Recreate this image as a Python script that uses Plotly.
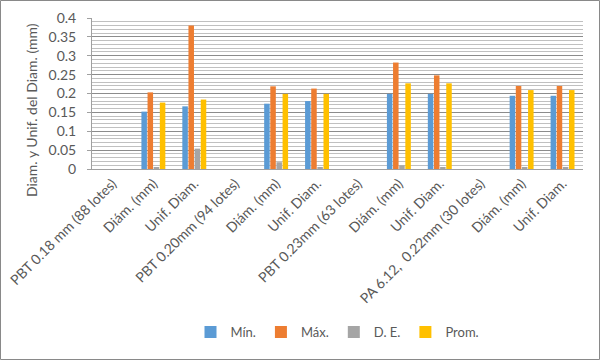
import plotly.graph_objects as go

categories = ["PBT 0.18 mm (88 lotes)", "Diám. (mm)", "Unif. Diam.",
              "PBT 0.20mm (94 lotes)", "Diám. (mm)", "Unif. Diam.",
              "PBT 0.23mm (63 lotes)", "Diám. (mm)", "Unif. Diam.",
              "PA 6.12,  0.22mm (30 lotes)", "Diám. (mm)", "Unif. Diam."]

minimo = [None, 0.152, 0.166, None, 0.173, 0.180, None, 0.199, 0.199, None, 0.194, 0.194]
maximo = [None, 0.203, 0.380, None, 0.219, 0.213, None, 0.282, 0.248, None, 0.220, 0.220]
desv = [None, 0.005, 0.054, None, 0.018, 0.004, None, 0.010, 0.005, None, 0.004, 0.004]
prom = [None, 0.176, 0.184, None, 0.199, 0.199, None, 0.227, 0.227, None, 0.209, 0.209]

series_names = ["Mín.", "Máx.", "D. E.", "Prom."]
colors = ["#5B9BD5", "#ED7D31", "#A5A5A5", "#FFC000"]

xs = list(range(len(categories)))
fig = go.Figure()
for name, vals, col in zip(series_names, [minimo, maximo, desv, prom], colors):
    fig.add_trace(go.Bar(x=xs, y=vals, name=name, marker=dict(color=col, line=dict(width=0))))

W, H = 600, 360
ml, mr, mt, mb = 92, 17, 18, 191
pw, ph = W - ml - mr, H - mt - mb
TXT = "#595959"

fig.update_layout(
    width=W, height=H,
    margin=dict(l=ml, r=mr, t=mt, b=mb, autoexpand=False),
    paper_bgcolor="white", plot_bgcolor="white",
    font=dict(family="Lato, Liberation Sans, sans-serif", color=TXT, size=13),
    barmode="group", bargap=0.4, bargroupgap=0.1,
    showlegend=True,
    legend=dict(orientation="h", x=0.5, xanchor="center", y=(mt + ph - 332) / ph, yanchor="middle",
                font=dict(size=13, color=TXT), itemwidth=30, traceorder="normal"),
    xaxis=dict(tickmode="array", tickvals=xs, ticktext=categories, tickangle=-45,
               range=[-0.5, len(categories) - 0.5], showgrid=False, automargin=False,
               showline=True, linecolor="#A0A0A0", linewidth=1,
               tickfont=dict(size=14, color=TXT), ticks=""),
    yaxis=dict(range=[0, 0.4], dtick=0.05, showgrid=True, automargin=False,
               gridcolor="#8C8C8C", gridwidth=1,
               minor=dict(dtick=0.01, showgrid=True, gridcolor="#C0C0C0", gridwidth=1),
               showline=True, linecolor="#A0A0A0", linewidth=1,
               ticks="outside", ticklen=4, tickcolor="#A0A0A0", ticklabelstandoff=8,
               tickfont=dict(size=14, color=TXT), zeroline=False),
    annotations=[dict(text="Diam. y Unif. del Diam. (mm)", textangle=-90,
                      xref="paper", yref="paper",
                      x=(31 - ml) / pw, y=(mt + ph - 110) / ph,
                      xanchor="center", yanchor="middle", showarrow=False,
                      font=dict(size=14, color=TXT))],
    shapes=[dict(type="rect", xref="paper", yref="paper",
                 x0=(0.5 - ml) / pw, x1=(W - 0.5 - ml) / pw,
                 y0=(mt + ph - (H - 0.5)) / ph, y1=(mt + ph - 0.5) / ph,
                 line=dict(color="#898989", width=1), layer="below")],
)

fig.write_html("out.html", config={"displayModeBar": False},
               post_script="document.body.style.margin='0px';document.body.style.overflow='hidden';")
